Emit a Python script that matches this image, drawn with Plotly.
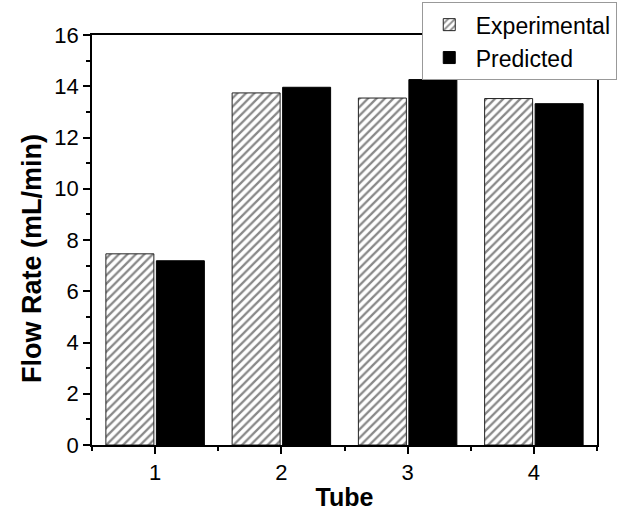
import plotly.graph_objects as go

tubes = [1, 2, 3, 4]
experimental = [7.46, 13.74, 13.54, 13.52]
predicted = [7.19, 13.96, 14.26, 13.32]
y_ticks = [0, 2, 4, 6, 8, 10, 12, 14, 16]

font_family = "Liberation Sans, Arial, sans-serif"

fig = go.Figure()
fig.add_trace(go.Bar(
    x=tubes, y=experimental, name="Experimental",
    marker=dict(color="white",
                line=dict(color="#222", width=1),
                pattern=dict(shape="/", fgcolor="#111", bgcolor="white",
                             size=6, solidity=0.38)),
))
fig.add_trace(go.Bar(
    x=tubes, y=predicted, name="Predicted",
    marker=dict(color="black", line=dict(color="black", width=1)),
))

fig.update_layout(
    width=628, height=513,
    margin=dict(l=92, r=31, t=35, b=68, autoexpand=False),
    paper_bgcolor="white", plot_bgcolor="white",
    barmode="group", bargap=0.2, bargroupgap=0.05,
    font=dict(family=font_family, color="black", size=22),
    legend=dict(x=0.653, y=1.08, xanchor="left", yanchor="top",
                bgcolor="white", bordercolor="#999", borderwidth=1,
                font=dict(size=23, family=font_family), tracegroupgap=0,
                itemwidth=43),
    showlegend=True,
    annotations=[dict(text="<b>Flow Rate (mL/min)</b>", textangle=-90,
                      xref="paper", yref="paper", x=-0.119, y=0.456,
                      xanchor="center", yanchor="middle", showarrow=False,
                      font=dict(size=27, family=font_family, color="black"))],
)
fig.update_xaxes(
    range=[0.5, 4.5], tickvals=tubes, ticktext=[str(t) for t in tubes],
    ticks="outside", ticklen=7, tickwidth=1.5, tickcolor="black",
    minor=dict(tickvals=[0.5, 1.5, 2.5, 3.5, 4.5], ticks="outside",
               ticklen=4, tickwidth=1.5, tickcolor="black"),
    showline=True, linecolor="black", linewidth=1.5, mirror=True,
    showgrid=False, zeroline=False,
    tickfont=dict(size=22),
    title=dict(text="<b>Tube</b>", font=dict(size=25), standoff=4),
)
fig.update_yaxes(
    range=[0, 16], tickvals=y_ticks,
    ticks="outside", ticklen=7, tickwidth=1.5, tickcolor="black",
    minor=dict(dtick=1, ticks="outside", ticklen=4, tickwidth=1.5,
               tickcolor="black"),
    showline=True, linecolor="black", linewidth=1.5, mirror=True,
    showgrid=False, zeroline=False,
    tickfont=dict(size=22),
)

fig.write_html("out.html", config={"displayModeBar": False},
               post_script="document.body.style.margin='0';")
